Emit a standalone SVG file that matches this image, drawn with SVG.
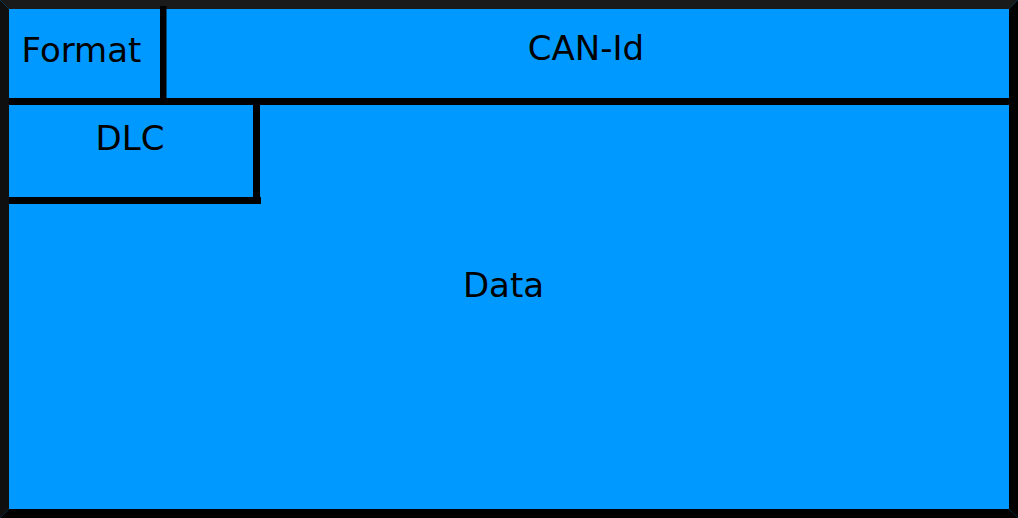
<svg xmlns="http://www.w3.org/2000/svg" width="1018" height="518" viewBox="0 0 1018 518">
<style>
.t{font-family:"DejaVu Sans",sans-serif;font-size:34px;fill:#000;text-anchor:middle}
.ln{fill:#000}
</style>
<rect x="0" y="0" width="1018" height="518" fill="#0099ff"/>
<g id="frame">
<polygon points="0,0 1018,0 1009,9 9,9" fill="#1a1a1a"/>
<polygon points="0,0 9,9 9,509 0,518" fill="#0f0f0f"/>
<polygon points="1018,0 1018,518 1009,509 1009,9" fill="#000"/>
<polygon points="0,518 9,509 1009,509 1018,518" fill="#000"/>
</g>
<g id="connectors">
<rect class="ln" x="9" y="98" width="1000" height="7"/>
<rect class="ln" x="160" y="6" width="6.5" height="92"/>
<rect class="ln" x="253" y="104" width="7" height="94"/>
<rect class="ln" x="9" y="197" width="252" height="7"/>
</g>
<g id="format"><text class="t" x="81.5" y="61.5">Format</text></g>
<g id="canid"><text class="t" x="586" y="59.5">CAN-Id</text></g>
<g id="dlc"><text class="t" x="130" y="150">DLC</text></g>
<g id="data"><text class="t" x="503.5" y="297">Data</text></g>
</svg>
